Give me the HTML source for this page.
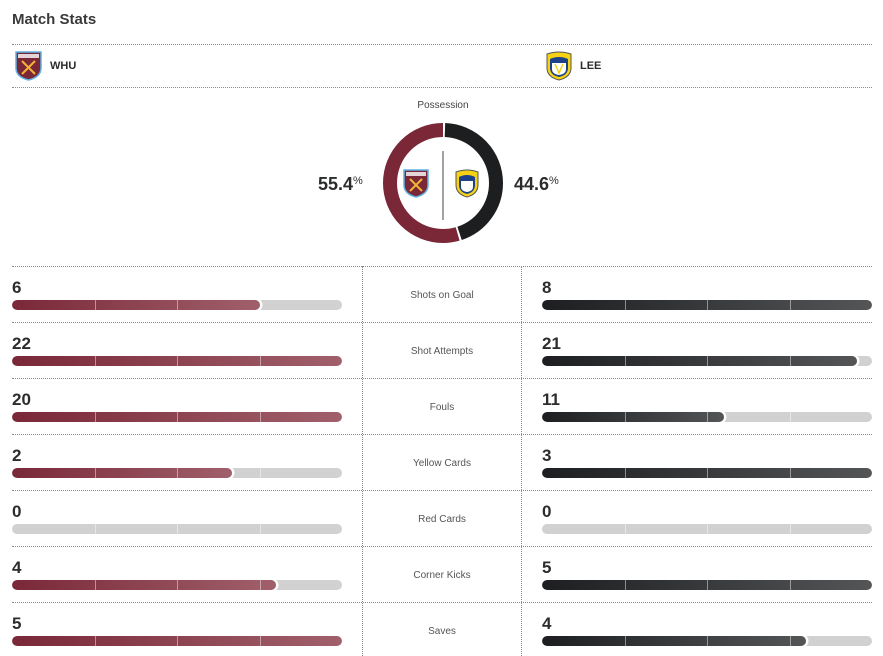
<!DOCTYPE html>
<html><head><meta charset="utf-8">
<style>
*{margin:0;padding:0;box-sizing:border-box}
body{width:883px;height:653px;background:#fff;font-family:"Liberation Sans",Arial,sans-serif;color:#2b2c2d;position:relative;overflow:hidden}
.a{position:absolute}
.hl{position:absolute;left:12px;width:860px;border-top:1px dotted #8a8a8a;height:0}
.vl{position:absolute;width:0;border-left:1px dotted #8a8a8a}
.num{position:absolute;font-size:17px;font-weight:bold;color:#2b2c2d;line-height:17px}
.lbl{position:absolute;left:362px;width:160px;text-align:center;font-size:10px;color:#555;line-height:12px}
.bar{position:absolute;height:10px;width:330px;border-radius:5px;background:#d0d1d0;overflow:hidden}
.fill{position:absolute;left:0;top:0;height:10px;border-radius:5px;box-shadow:1px 0 0 1.5px #fff}
.m{background:linear-gradient(90deg,#7a2838,#a0606b)}
.k{background:linear-gradient(90deg,#1d1e20,#545556)}
.tk{position:absolute;top:0;width:1px;height:10px;background:rgba(255,255,255,.45)}
</style></head><body>
<div class="a" style="left:12px;top:11px;font-size:15px;font-weight:bold;color:#3a3a3a">Match Stats</div>
<div class="hl" style="top:44px"></div>
<svg class="a" style="left:15px;top:51px" width="27" height="30" viewBox="0 0 27 30"><path d="M1 1H26V17Q26 26 13.5 29Q1 26 1 17Z" fill="#7a2838" stroke="#5eb4e4" stroke-width="1.5"/><rect x="3" y="3" width="21" height="4" fill="#fff" opacity=".8"/><path d="M7 10L20 23M20 10L7 23" stroke="#f1b434" stroke-width="2"/></svg>
<div class="a" style="left:50px;top:60px;font-size:11px;font-weight:bold">WHU</div>
<svg class="a" style="left:546px;top:51px" width="26" height="30" viewBox="0 0 26 30"><path d="M1 3Q13 -1 25 3V17Q25 26 13 29Q1 26 1 17Z" fill="#f5d314" stroke="#555" stroke-width="1"/><path d="M4 8Q13 4 22 8V17Q22 24 13 26Q4 24 4 17Z" fill="#1d428a"/><path d="M6 12H20V18Q20 23 13 24Q6 23 6 18Z" fill="#fff"/><path d="M9 13L13 22L17 13" stroke="#f5d314" stroke-width="1.5" fill="none"/></svg>
<div class="a" style="left:580px;top:60px;font-size:11px;font-weight:bold">LEE</div>
<div class="hl" style="top:87px"></div>
<div class="a" style="left:343px;width:200px;top:100px;text-align:center;font-size:10px;color:#444">Possession</div>
<svg class="a" style="left:383px;top:123px" width="120" height="120" viewBox="0 0 120 120">
<g transform="rotate(-90 60 60)">
<circle cx="60" cy="60" r="53" fill="none" stroke="#1d1e20" stroke-width="14" stroke-dasharray="147.5 400" stroke-dashoffset="-2"/>
<circle cx="60" cy="60" r="53" fill="none" stroke="#7a2838" stroke-width="14" stroke-dasharray="182.5 400" stroke-dashoffset="-151.5"/>
</g>
<line x1="60" y1="28" x2="60" y2="97" stroke="#444" stroke-width="1"/>
<g transform="translate(20,46)"><path d="M1 1H25V16Q25 25 13 28Q1 25 1 16Z" fill="#7a2838" stroke="#5eb4e4" stroke-width="1.5"/><rect x="3" y="3" width="20" height="4" fill="#fff" opacity=".8"/><path d="M7 10L19 22M19 10L7 22" stroke="#f1b434" stroke-width="2"/></g>
<g transform="translate(72,46)"><path d="M1 3Q12 -1 23 3V16Q23 25 12 28Q1 25 1 16Z" fill="#f5d314" stroke="#555" stroke-width="1"/><path d="M4 8Q12 4 20 8V16Q20 23 12 25Q4 23 4 16Z" fill="#1d428a"/><path d="M6 12H18V18Q18 22 12 23Q6 22 6 18Z" fill="#fff"/></g>
</svg>
<div class="a" style="left:318px;top:174px;font-size:18px;font-weight:bold">55.4<span style="font-size:11px;vertical-align:6px;font-weight:normal">%</span></div>
<div class="a" style="left:514px;top:174px;font-size:18px;font-weight:bold">44.6<span style="font-size:11px;vertical-align:6px;font-weight:normal">%</span></div>
<div class="vl" style="left:362px;top:266px;height:390px"></div>
<div class="vl" style="left:521px;top:266px;height:390px"></div>
<div id="rows"></div>
<script>
var d=[["Shots on Goal",6,8],["Shot Attempts",22,21],["Fouls",20,11],["Yellow Cards",2,3],["Red Cards",0,0],["Corner Kicks",4,5],["Saves",5,4]];
var h="";
function bar(x,y,f,c){var s='<div class="bar" style="left:'+x+'px;top:'+y+'px">';
if(f>0)s+='<div class="fill '+c+'" style="width:'+(f*330)+'px"></div>';
for(var i=1;i<4;i++)s+='<div class="tk" style="left:'+(i*82.5)+'px"></div>';
return s+'</div>';}
d.forEach(function(r,i){var t=266+i*56;var mx=Math.max(r[1],r[2]);
h+='<div class="hl" style="top:'+t+'px"></div>';
h+='<div class="num" style="left:12px;top:'+(t+13)+'px">'+r[1]+'</div>';
h+='<div class="num" style="left:542px;top:'+(t+13)+'px">'+r[2]+'</div>';
h+='<div class="lbl" style="top:'+(t+24)+'px">'+r[0]+'</div>';
h+=bar(12,t+34,mx?r[1]/mx:0,"m");h+=bar(542,t+34,mx?r[2]/mx:0,"k");});
document.getElementById("rows").innerHTML=h;
</script>
</body></html>
